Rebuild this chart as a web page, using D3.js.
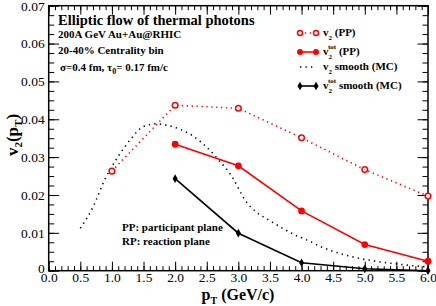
<!DOCTYPE html>
<html>
<head>
<meta charset="utf-8">
<script src="https://cdn.jsdelivr.net/npm/d3@7"></script>
<style>
body { margin: 0; background: #fff; }
svg text { font-family: "Liberation Serif", "DejaVu Serif", serif; }
</style>
</head>
<body>
<div id="chart"></div>
<script>
// data
var ptPoints = [2.0, 3.0, 4.0, 5.0, 6.0];
var v2PP = [[1.0, 0.0263], [2.0, 0.0437], [3.0, 0.0429], [4.0, 0.0351], [5.0, 0.0267], [6.0, 0.0197]];
var v2totPP = [0.0334, 0.0277, 0.0158, 0.0069, 0.0025];
var v2totMC = [0.0243, 0.0099, 0.0021, 0.0005, 0.0000];
var v2smoothMC = [[0.5, 0.0112], [0.7, 0.0168], [0.9, 0.0245], [1.1, 0.0302], [1.3, 0.0348], [1.5, 0.0381],
    [1.7, 0.0388], [1.9, 0.0383], [2.1, 0.0372], [2.3, 0.0354], [2.5, 0.0326], [2.7, 0.0290], [2.9, 0.0248],
    [3.0, 0.0218], [3.1, 0.0188], [3.3, 0.0153], [3.5, 0.0132], [3.7, 0.0112], [3.9, 0.0094], [4.1, 0.0080],
    [4.3, 0.0064], [4.5, 0.0051], [4.7, 0.0041], [4.9, 0.0033], [5.1, 0.0027], [5.3, 0.0022], [5.5, 0.0018],
    [5.7, 0.0014], [6.0, 0.0010]];
var xTicks = [0, 0.5, 1, 1.5, 2, 2.5, 3, 3.5, 4, 4.5, 5, 5.5, 6];
var yTicks = [0, 0.01, 0.02, 0.03, 0.04, 0.05, 0.06, 0.07];

var W = 436, H = 306;
var margin = {left: 48.7, right: 8, top: 5.7, bottom: 35.3};
var w = W - margin.left - margin.right, h = H - margin.top - margin.bottom;

var svg = d3.select("#chart").append("svg").attr("width", W).attr("height", H);
var g = svg.append("g").attr("transform", "translate(" + margin.left + "," + margin.top + ")");

var x = d3.scaleLinear().domain([0, 6]).range([0, w]);
var y = d3.scaleLinear().domain([0, 0.07]).range([h, 0]);

var minorX = d3.range(0, 6.001, 0.1), minorY = d3.range(0, 0.07001, 0.0025);
var fmtX = d3.format(".1f"), fmtY = function (d) { return d === 0 ? "0" : d3.format(".2f")(d); };

// bottom / top
g.append("g").attr("transform", "translate(0," + h + ")")
    .call(d3.axisBottom(x).tickValues(minorX).tickSize(-4.5).tickFormat(""));
g.append("g").attr("transform", "translate(0," + h + ")")
    .call(d3.axisBottom(x).tickValues(xTicks).tickSize(-9).tickPadding(2).tickFormat(fmtX))
    .attr("class", "xlab");
g.append("g").call(d3.axisTop(x).tickValues(minorX).tickSize(-4.5).tickFormat(""));
g.append("g").call(d3.axisTop(x).tickValues(xTicks).tickSize(-9).tickFormat(""));
// left / right
g.append("g").call(d3.axisLeft(y).tickValues(minorY).tickSize(-5.5).tickFormat(""));
g.append("g").call(d3.axisLeft(y).tickValues(yTicks).tickSize(-10.5).tickPadding(4).tickFormat(fmtY))
    .attr("class", "ylab");
g.append("g").attr("transform", "translate(" + w + ",0)")
    .call(d3.axisRight(y).tickValues(minorY).tickSize(-5.5).tickFormat(""));
g.append("g").attr("transform", "translate(" + w + ",0)")
    .call(d3.axisRight(y).tickValues(yTicks).tickSize(-10.5).tickFormat(""));

g.selectAll(".domain").remove();
g.selectAll(".tick line").attr("stroke", "#000").attr("stroke-width", 1);
g.selectAll(".xlab text, .ylab text").attr("font-size", 13.5).attr("fill", "#000")
    .style("font-family", "Liberation Serif");
// nudge the "0" on the y axis so it clears "0.0"
g.selectAll(".ylab text").filter(function (d) { return d === 0; }).attr("dy", "0.1em");

g.append("rect").attr("width", w).attr("height", h)
    .attr("fill", "none").attr("stroke", "#000").attr("stroke-width", 1.5);

var line = d3.line().x(function (d) { return x(d[0]); }).y(function (d) { return y(d[1]); });
var totPP = ptPoints.map(function (p, i) { return [p, v2totPP[i]]; });
var totMC = ptPoints.map(function (p, i) { return [p, v2totMC[i]]; });

// v2 smooth (MC)
g.append("path").datum(v2smoothMC).attr("d", line.curve(d3.curveMonotoneX))
    .attr("fill", "none").attr("stroke", "#000").attr("stroke-width", 1.6)
    .attr("stroke-dasharray", "1.3,4.2");
line.curve(d3.curveLinear);

// v2 (PP)
g.append("path").datum(v2PP).attr("d", line)
    .attr("fill", "none").attr("stroke", "#ff0000").attr("stroke-width", 1.6)
    .attr("stroke-dasharray", "1.3,3.6");
g.selectAll(".ppo").data(v2PP).enter().append("circle")
    .attr("cx", function (d) { return x(d[0]); }).attr("cy", function (d) { return y(d[1]); })
    .attr("r", 2.8).attr("fill", "#fff").attr("stroke", "#ff0000").attr("stroke-width", 1.5);

// v2 tot (PP)
g.append("path").datum(totPP).attr("d", line)
    .attr("fill", "none").attr("stroke", "#ff0000").attr("stroke-width", 1.6);
g.selectAll(".ppf").data(totPP).enter().append("circle")
    .attr("cx", function (d) { return x(d[0]); }).attr("cy", function (d) { return y(d[1]); })
    .attr("r", 3.4).attr("fill", "#ff0000");

// v2 tot smooth (MC)
g.append("path").datum(totMC).attr("d", line)
    .attr("fill", "none").attr("stroke", "#000").attr("stroke-width", 1.6);
var diamond = d3.symbol().type(d3.symbolDiamond).size(22);
g.selectAll(".mcd").data(totMC).enter().append("path").attr("d", diamond)
    .attr("transform", function (d) { return "translate(" + x(d[0]) + "," + y(d[1]) + ")"; })
    .attr("fill", "#000");

// text
var t = svg.append("g").attr("font-weight", "bold").attr("fill", "#000");
t.append("text").attr("x", 58).attr("y", 25).attr("font-size", 14.5).text("Elliptic flow of thermal photons");
t.append("text").attr("x", 58).attr("y", 38).attr("font-size", 11).text("200A GeV Au+Au@RHIC");
t.append("text").attr("x", 58).attr("y", 54).attr("font-size", 11).text("20-40% Centrality bin");
var s = t.append("text").attr("x", 60).attr("y", 71).attr("font-size", 11);
s.append("tspan").text("\u03c3=0.4 fm, \u03c4");
s.append("tspan").attr("font-size", 8).attr("dy", 3).text("0");
s.append("tspan").attr("dy", -3).text("= 0.17 fm/c");

t.append("text").attr("x", 122).attr("y", 231).attr("font-size", 11).text("PP: participant plane");
t.append("text").attr("x", 122).attr("y", 245).attr("font-size", 11).text("RP: reaction plane");

// legend
var leg = [
    {y: 33, sub: "2", sup: "", rest: " (PP)", color: "#ff0000", dash: "1.3,3.6", mark: "open"},
    {y: 52, sub: "2", sup: "tot", rest: " (PP)", color: "#ff0000", dash: null, mark: "fill"},
    {y: 67, sub: "2", sup: "", rest: " smooth (MC)", color: "#000", dash: "1.3,4.2", mark: null},
    {y: 86, sub: "2", sup: "tot", rest: " smooth (MC)", color: "#000", dash: null, mark: "diamond"}
];
leg.forEach(function (l) {
    svg.append("line").attr("x1", 300).attr("x2", 316).attr("y1", l.y).attr("y2", l.y)
        .attr("stroke", l.color).attr("stroke-width", 1.6).attr("stroke-dasharray", l.dash);
    [300, 316].forEach(function (px) {
        if (l.mark === "open") svg.append("circle").attr("cx", px).attr("cy", l.y).attr("r", 2.5)
            .attr("fill", "#fff").attr("stroke", l.color).attr("stroke-width", 1.5);
        if (l.mark === "fill") svg.append("circle").attr("cx", px).attr("cy", l.y).attr("r", 3).attr("fill", l.color);
        if (l.mark === "diamond") svg.append("path").attr("d", diamond)
            .attr("transform", "translate(" + px + "," + l.y + ")").attr("fill", "#000");
    });
    var tx = svg.append("text").attr("x", 323).attr("y", l.y + 3).attr("font-size", 11).attr("font-weight", "bold");
    tx.append("tspan").text("v");
    if (l.sup) {
        tx.append("tspan").attr("font-size", 7).attr("dy", 4).text(l.sub);
        tx.append("tspan").attr("font-size", 7).attr("dx", -4).attr("dy", -10).text(l.sup);
        tx.append("tspan").attr("dy", 6).text(l.rest);
    } else {
        tx.append("tspan").attr("font-size", 7).attr("dy", 4).text(l.sub);
        tx.append("tspan").attr("dy", -4).text(l.rest);
    }
});

// axis titles
var xl = svg.append("text").attr("x", 238).attr("y", 300).attr("text-anchor", "middle")
    .attr("font-size", 16).attr("font-weight", "bold");
xl.append("tspan").text("p");
xl.append("tspan").attr("font-size", 10).attr("dy", 4).text("T");
xl.append("tspan").attr("dy", -4).text(" (GeV/c)");

var yl = svg.append("text").attr("transform", "translate(18,135) rotate(-90)").attr("text-anchor", "middle")
    .attr("font-size", 17).attr("font-weight", "bold");
yl.append("tspan").text("v");
yl.append("tspan").attr("font-size", 11).attr("dy", 4).text("2");
yl.append("tspan").attr("dy", -4).text("(p");
yl.append("tspan").attr("font-size", 11).attr("dy", 4).text("T");
yl.append("tspan").attr("dy", -4).text(")");
</script>
</body>
</html>
